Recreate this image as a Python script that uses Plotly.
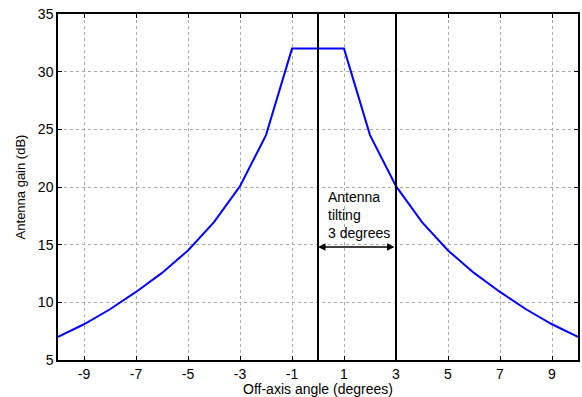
import plotly.graph_objects as go

angles = [-10, -9, -8, -7, -6, -5, -4, -3, -2, -1, 0, 1, 2, 3, 4, 5, 6, 7, 8, 9, 10]
gain_db = [7.0, 8.1, 9.4, 10.9, 12.55, 14.5, 16.95, 20.07, 24.5, 32, 32, 32,
           24.5, 20.07, 16.95, 14.5, 12.55, 10.9, 9.4, 8.1, 7.0]
x_ticks = [-9, -7, -5, -3, -1, 1, 3, 5, 7, 9]
x_tick_labels = ["-9", "-7", "-5", "-3", "-1", "1", "3", "5", "7", "9"]
y_ticks = [5, 10, 15, 20, 25, 30, 35]
tilt_lines = [0, 3]
arrow_y = 14.8

FONT = "Liberation Sans, Arial"

fig = go.Figure()
fig.add_trace(go.Scatter(x=angles, y=gain_db, mode="lines",
                         line=dict(color="#0000ff", width=2), showlegend=False))
for xv in tilt_lines:
    fig.add_shape(type="line", x0=xv, x1=xv, y0=5, y1=35, xref="x", yref="y",
                  line=dict(color="black", width=2))
fig.add_annotation(x=tilt_lines[0], y=arrow_y, ax=tilt_lines[1], ay=arrow_y,
                   xref="x", yref="y", axref="x", ayref="y", text="",
                   showarrow=True, arrowhead=2, arrowsize=1, arrowwidth=1.5,
                   arrowcolor="black", startarrowhead=2, arrowside="end+start")
fig.add_annotation(x=0.3, y=17.55, xref="x", yref="y", text="Antenna<br>tilting<br>3 degrees",
                   showarrow=False, xanchor="left", yanchor="middle", align="left",
                   font=dict(family=FONT, size=14, color="black"))

axis_common = dict(showline=True, linecolor="black", linewidth=1.5, mirror="ticks",
                   ticks="inside", ticklen=4, tickcolor="black",
                   showgrid=True, gridcolor="#a8a8a8", griddash="dot", gridwidth=1,
                   zeroline=False, tickfont=dict(family=FONT, size=14, color="black"))
fig.update_xaxes(range=[-10, 10], tickvals=x_ticks, ticktext=x_tick_labels,
                 title=dict(text="Off-axis angle (degrees)", standoff=0,
                            font=dict(family=FONT, size=14, color="black")),
                 **axis_common)
fig.update_yaxes(range=[5, 35], tickvals=y_ticks,
                 title=dict(text="Antenna gain (dB)", standoff=9,
                            font=dict(family=FONT, size=13, color="black")),
                 **axis_common)
fig.update_layout(width=582, height=397, plot_bgcolor="white", paper_bgcolor="white",
                  margin=dict(l=58, r=4, t=14, b=37, autoexpand=False))
fig.write_html("out.html", config={"displayModeBar": False},
               post_script="document.body.style.margin='0';")
